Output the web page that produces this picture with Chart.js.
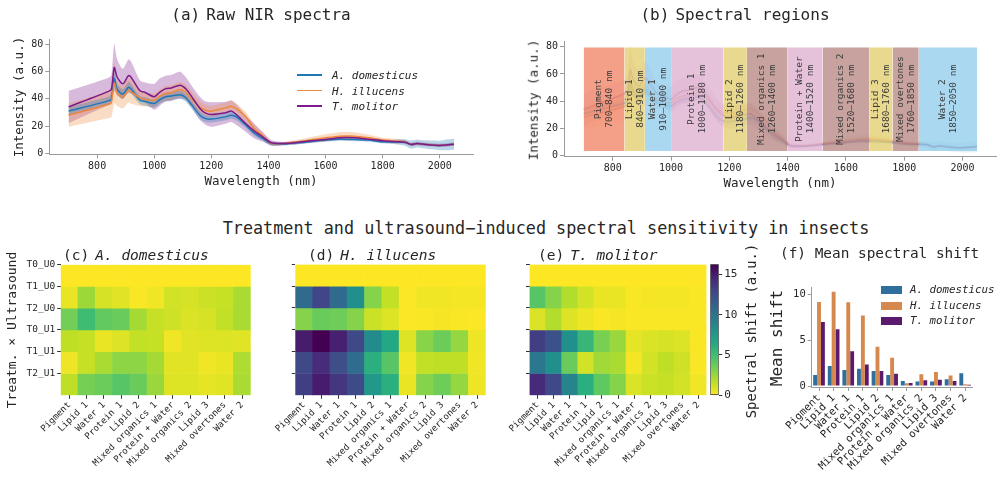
<!DOCTYPE html>
<html>
<head>
<meta charset="utf-8">
<script src="https://cdn.jsdelivr.net/npm/chart.js@4.4.1/dist/chart.umd.min.js"></script>
<style>
  body { margin: 0; width: 1004px; height: 484px; position: relative; overflow: hidden; background: #fff;
         font-family: "DejaVu Sans Mono", monospace; color: #262626; }
  canvas { position: absolute; }
  .t { position: absolute; white-space: nowrap; line-height: 1; }
  .c { transform: translate(-50%, -50%); }
  .l { transform: translateY(-50%); }
  .v { transform: translate(-50%, -50%) rotate(-90deg); }
  i { font-style: italic; }
  .pre { margin-right: 6px; }
</style>
</head>
<body>
<canvas id="cA" width="490" height="200" style="left:0;top:0"></canvas>
<canvas id="cB" width="514" height="200" style="left:490px;top:0"></canvas>
<canvas id="cC" width="270" height="244" style="left:0;top:240px"></canvas>
<canvas id="cD" width="270" height="244" style="left:230px;top:240px"></canvas>
<canvas id="cE" width="240" height="244" style="left:470px;top:240px"></canvas>
<canvas id="cBar" width="60" height="244" style="left:700px;top:240px"></canvas>
<canvas id="cF" width="264" height="244" style="left:740px;top:240px"></canvas>

<div class="t c" style="left:261px;top:15px;font-size:16px"><span class="pre">(a)</span>Raw NIR spectra</div>
<div class="t c" style="left:735px;top:15px;font-size:16px"><span class="pre">(b)</span>Spectral regions</div>
<div class="t c" style="left:261px;top:181px;font-size:12.5px">Wavelength (nm)</div>
<div class="t c" style="left:780px;top:183px;font-size:12.5px">Wavelength (nm)</div>
<div class="t v" style="left:19px;top:97px;font-size:12.5px">Intensity (a.u.)</div>
<div class="t v" style="left:534px;top:100px;font-size:12.5px">Intensity (a.u.)</div>

<div class="t c" style="left:546px;top:228px;font-size:16.8px">Treatment and ultrasound−induced spectral sensitivity in insects</div>
<div class="t l" style="left:63px;top:255px;font-size:14.5px"><span class="pre">(c)</span><i>A. domesticus</i></div>
<div class="t l" style="left:308px;top:255px;font-size:14.5px"><span class="pre">(d)</span><i>H. illucens</i></div>
<div class="t l" style="left:538px;top:255px;font-size:14.5px"><span class="pre">(e)</span><i>T. molitor</i></div>
<div class="t l" style="left:780px;top:253px;font-size:14.4px">(f) Mean spectral shift</div>
<div class="t v" style="left:11px;top:330px;font-size:13px">Treatm. × Ultrasound</div>
<div class="t v" style="left:752px;top:331px;font-size:13.8px">Spectral shift (a.u.)</div>
<div class="t v" style="left:777px;top:338px;font-size:16px">Mean shift</div>
<div id="legends"></div>

<script>
// ---------- data ----------
const wavelengths = [700, 840, 850, 860, 870, 890, 910, 920, 950, 970, 1000, 1020, 1040, 1060, 1090, 1110, 1130, 1160, 1180, 1200,
  1250, 1270, 1290, 1320, 1350, 1380, 1410, 1450, 1500, 1550, 1600, 1650, 1700, 1750, 1800, 1850, 1880, 1900, 1920, 1950, 2000, 2030, 2050];

const meanAdom = [31, 38.5, 40, 55, 47, 43.5, 48.5, 47, 39, 38, 36.6, 39.5, 41.5, 42, 43, 41, 36, 28, 25.6, 25.2,
  26.8, 28, 26.5, 21, 15, 11, 7.2, 7, 7.8, 8.8, 9.8, 10.5, 10.2, 9.8, 8.5, 8.4, 8, 6.6, 7.3, 6.6, 5.9, 6.4, 6.8];
const sdAdom = [3, 3, 3.5, 6, 4, 3.5, 4, 3.5, 3, 3, 3, 3, 3, 3, 3, 3, 3, 2.8, 2.5, 2.5,
  2.5, 2.5, 2.5, 2.2, 2, 1.8, 1.5, 1.2, 1.2, 1.2, 1.2, 1.2, 1.2, 1.2, 1.2, 1.8, 2.5, 3, 3, 3, 3.5, 4, 4];

const meanHill = [28, 36, 37.5, 51.5, 44, 41.5, 46.3, 45, 40.7, 39.5, 39, 42, 43.9, 44.5, 46.8, 45, 40, 34, 31.7, 31,
  33.4, 34.6, 32.5, 27, 18.3, 13, 7.5, 7.3, 8.5, 10, 11.5, 12.7, 12.7, 11.5, 9.8, 9, 8.5, 6.6, 7.3, 6.6, 5.9, 6.4, 6.8];
const sdHill = [8.5, 10, 11, 15, 9, 8.5, 9, 8.5, 6, 5, 5, 5, 5.5, 5.5, 5.5, 5.5, 5.5, 4.5, 4, 4,
  3.8, 3.8, 3.8, 3.5, 3, 2.5, 1.2, 1, 1.5, 2, 2.5, 2.8, 2.8, 2.2, 1.8, 1.8, 1, 0.8, 0.8, 0.8, 0.8, 0.8, 0.8];

const meanTmol = [34.1, 45.5, 47, 63, 56, 51, 57, 55.5, 46, 44.5, 41.5, 45, 47.5, 48, 50, 47.5, 42, 33, 29.5, 28.5,
  29.8, 31, 28, 22, 16.6, 12.2, 7.8, 7.3, 8, 9.3, 10.2, 11.5, 11.5, 10.5, 9.3, 8.6, 8.2, 6.6, 7.3, 6.6, 5.9, 6.4, 6.8];
const sdTmol = [11.8, 10, 10.5, 17, 13, 11, 12, 11.5, 7.5, 7.5, 9.5, 10, 9.5, 9.5, 9.8, 8.5, 8, 8.5, 8.5, 9,
  8, 8, 7.5, 6, 5.4, 3.5, 2, 1.2, 1.2, 1.2, 1.2, 1.3, 1.3, 1.2, 1.2, 1.2, 1.2, 1.2, 1.2, 1.2, 1.2, 1.2, 1.2];

const speciesNames = ['A. domesticus', 'H. illucens', 'T. molitor'];

const regionNames = ['Pigment', 'Lipid 1', 'Water 1', 'Protein 1', 'Lipid 2', 'Mixed organics 1', 'Protein + Water',
  'Mixed organics 2', 'Lipid 3', 'Mixed overtones', 'Water 2'];
const regionStart = [700, 840, 910, 1000, 1180, 1260, 1400, 1520, 1680, 1760, 1850];
const regionEnd = [840, 910, 1000, 1180, 1260, 1400, 1520, 1680, 1760, 1850, 2050];

const rowLabels = ['T0_U0', 'T1_U0', 'T2_U0', 'T0_U1', 'T1_U1', 'T2_U1'];

const shiftAdom = [
  [0, 0, 0, 0, 0, 0, 0, 0, 0, 0, 0],
  [0.5, 2.4, 1.0, 0.7, 0.1, 0.3, 1.1, 1.0, 1.3, 1.4, 2.1],
  [3.5, 5.1, 4.0, 3.8, 2.2, 1.4, 1.2, 0.9, 1.0, 1.5, 2.1],
  [1.6, 1.4, 0.5, 0.8, 1.5, 1.4, 0.3, 0.7, 0.8, 0.8, 0.7],
  [0.4, 1.4, 2.1, 2.8, 2.8, 2.2, 0.7, 0.7, 0.3, 0.5, 2.0],
  [1.6, 3.4, 3.7, 4.3, 3.8, 2.5, 0.8, 0.8, 0.6, 0.7, 2.1]
];
const shiftHill = [
  [0, 0, 0, 0, 0, 0, 0, 0, 0, 0, 0],
  [10.6, 12.9, 10.6, 8.2, 3.0, 1.5, 0.05, 0.3, 0.3, 0.2, 0.2],
  [3.0, 3.8, 3.6, 3.0, 1.3, 0.8, 0.05, 0.1, 0.2, 0.1, 0.05],
  [15.0, 16.3, 14.8, 12.7, 8.5, 6.5, 0.8, 2.9, 3.7, 2.6, 0.4],
  [12.7, 14.2, 12.4, 10.5, 6.0, 4.3, 0.3, 1.5, 1.6, 1.6, 0.3],
  [13.3, 15.0, 13.7, 12.5, 7.6, 6.0, 0.5, 3.0, 3.6, 2.6, 0.4]
];
const shiftTmol = [
  [0, 0, 0, 0, 0, 0, 0, 0, 0, 0, 0],
  [4.3, 3.0, 1.9, 1.1, 0.5, 0.5, 0.1, 0.2, 0.2, 0.2, 0.1],
  [0.9, 1.9, 0.8, 0.4, 0.1, 0.2, 0.1, 0.1, 0.1, 0.1, 0.1],
  [13.3, 12.2, 8.2, 5.5, 3.3, 2.5, 0.6, 0.9, 1.0, 0.8, 0.1],
  [9.8, 8.2, 3.8, 1.1, 2.3, 2.1, 0.2, 1.1, 1.6, 1.2, 0.1],
  [14.3, 12.7, 9.0, 6.0, 4.1, 3.0, 0.9, 1.3, 1.4, 1.1, 0.3]
];

const meanShiftAdom = [1.2, 2.2, 1.75, 1.9, 1.65, 1.2, 0.55, 0.5, 0.5, 0.75, 1.4];
const meanShiftHill = [9.2, 10.3, 9.15, 7.7, 4.3, 3.1, 0.3, 1.3, 1.55, 1.15, 0.2];
const meanShiftTmol = [7.0, 6.2, 3.8, 2.35, 1.65, 1.35, 0.35, 0.65, 0.7, 0.55, 0.15];

const wlTicks = [800, 1000, 1200, 1400, 1600, 1800, 2000];
const intensityTicks = [0, 20, 40, 60, 80];
const meanShiftTicks = [0, 5, 10];
const cbarTicks = [0, 5, 10, 15];

// ---------- styling ----------
const wlMin = 632.5, wlMax = 2117.5, yMin = -0.6, yMax = 83.6;
const vmax = 16.25;
const spine = '#9a9a9a';
const lineCols = [[31, 119, 180], [240, 136, 58], [125, 26, 140]];
const barCols = ['#2e6f9e', '#d6894f', '#5c1a6d'];

Chart.defaults.font.family = "'DejaVu Sans Mono', monospace";
Chart.defaults.color = '#262626';
Chart.defaults.animation = false;
Chart.defaults.events = [];
Chart.defaults.plugins.legend.display = false;
Chart.defaults.plugins.tooltip.enabled = false;

const rgba = (c, a) => `rgba(${c[0]},${c[1]},${c[2]},${a})`;
const plain = v => String(v);

const viridis = ['#440154', '#482475', '#414487', '#355f8d', '#2a788e', '#21918c', '#22a884', '#44bf70', '#7ad151', '#bddf26', '#fde725'];
function hexRgb(h) { return [1, 3, 5].map(k => parseInt(h.substr(k, 2), 16)); }
function viridisR(f) {
  f = Math.min(1, Math.max(0, f));
  const t = (1 - f) * 10, i = Math.min(9, Math.floor(t)), u = t - i;
  const a = hexRgb(viridis[i]), b = hexRgb(viridis[i + 1]);
  return `rgb(${a.map((v, k) => Math.round(v + (b[k] - v) * u)).join(',')})`;
}

// spectra: band (mean ± sd) then mean line, T. molitor on top
const means = [meanAdom, meanHill, meanTmol];
const sds = [sdAdom, sdHill, sdTmol];
function spectraSets(lineAlpha, bandAlpha) {
  const sets = [];
  means.forEach((m, s) => {
    sets.push({ data: wavelengths.map((w, i) => ({ x: w, y: m[i] + sds[s][i] })), fill: '+1',
      backgroundColor: rgba(lineCols[s], bandAlpha), borderWidth: 0, pointRadius: 0, tension: 0.25, order: 5 });
    sets.push({ data: wavelengths.map((w, i) => ({ x: w, y: m[i] - sds[s][i] })), fill: false,
      borderWidth: 0, pointRadius: 0, tension: 0.25, order: 5 });
  });
  means.forEach((m, s) => {
    sets.push({ data: wavelengths.map((w, i) => ({ x: w, y: m[i] })), fill: false, borderColor: rgba(lineCols[s], lineAlpha),
      borderWidth: 1.5, pointRadius: 0, tension: 0.25, order: 4 - s });
  });
  return sets;
}

function spectraScales(yw, xh) {
  return {
    x: { type: 'linear', min: wlMin, max: wlMax,
      afterBuildTicks: s => { s.ticks = wlTicks.map(v => ({ value: v })); },
      afterFit: s => { s.height = xh; },
      border: { color: spine }, grid: { drawOnChartArea: false, color: spine, tickLength: 4 },
      ticks: { font: { size: 10 }, padding: 2, maxRotation: 0, callback: plain } },
    y: { type: 'linear', min: yMin, max: yMax,
      afterBuildTicks: s => { s.ticks = intensityTicks.map(v => ({ value: v })); },
      afterFit: s => { s.width = yw; },
      border: { color: spine }, grid: { drawOnChartArea: false, color: spine, tickLength: 4 },
      ticks: { font: { size: 10 }, padding: 2, callback: plain } }
  };
}

// (a) raw spectra
new Chart(document.getElementById('cA'), {
  type: 'line',
  data: { datasets: spectraSets(1, 0.3) },
  options: { responsive: false, devicePixelRatio: 1,
    layout: { padding: { left: 0, top: 39.3, right: 16.7, bottom: 0 } },
    scales: spectraScales(49.3, 45.7) }
});

// (b) spectral regions over faint spectra
const spanLo = yMin + 0.05 * (yMax - yMin), spanHi = yMin + 0.95 * (yMax - yMin);
function spanColor(n) {
  if (n.startsWith('Pigment')) return 'rgba(240,128,96,0.75)';
  if (n.startsWith('Lipid')) return 'rgba(226,204,104,0.75)';
  if (n.startsWith('Water')) return 'rgba(140,203,235,0.75)';
  if (n.startsWith('Protein')) return 'rgba(222,174,206,0.75)';
  return 'rgba(180,131,126,0.75)';
}
const spanSets = regionNames.map((n, i) => ({
  data: [{ x: regionStart[i], y: spanHi }, { x: regionEnd[i], y: spanHi }],
  fill: { value: spanLo }, backgroundColor: spanColor(n), borderWidth: 0, pointRadius: 0, order: 0
}));
const regionText = {
  id: 'regionText',
  afterDatasetsDraw(chart) {
    const { ctx, scales: { x, y } } = chart;
    ctx.save();
    ctx.font = "9.5px 'DejaVu Sans Mono'";
    ctx.fillStyle = '#3a3a3a';
    ctx.textAlign = 'center';
    ctx.textBaseline = 'middle';
    regionNames.forEach((n, i) => {
      ctx.save();
      ctx.translate(x.getPixelForValue((regionStart[i] + regionEnd[i]) / 2), y.getPixelForValue((spanLo + spanHi) / 2));
      ctx.rotate(-Math.PI / 2);
      ctx.fillText(n, 0, -5.5);
      ctx.fillText(regionStart[i] + '–' + regionEnd[i] + ' nm', 0, 5.5);
      ctx.restore();
    });
    ctx.restore();
  }
};
new Chart(document.getElementById('cB'), {
  type: 'line',
  data: { datasets: spectraSets(0.35, 0.1).concat(spanSets) },
  options: { responsive: false, devicePixelRatio: 1,
    layout: { padding: { left: 0, top: 41.7, right: 7.3, bottom: 0 } },
    scales: spectraScales(74, 43.3) },
  plugins: [regionText]
});

// (c)-(e) heatmaps as stacked floating bars, one dataset per treatment row
function heatmap(id, values, area, w, h, rowText) {
  return new Chart(document.getElementById(id), {
    type: 'bar',
    data: { labels: regionNames,
      datasets: rowLabels.map((r, i) => ({ label: r, data: regionNames.map(() => [i, i + 1]),
        backgroundColor: values[i].map(v => viridisR(v / vmax)), borderWidth: 0,
        grouped: false, barPercentage: 1, categoryPercentage: 1 })) },
    options: { responsive: false, devicePixelRatio: 1,
      layout: { padding: { left: 0, top: area[1], right: w - area[2], bottom: 0 } },
      scales: {
        x: { type: 'category', offset: true, afterFit: s => { s.height = h - area[3]; },
          grid: { offset: false, drawOnChartArea: false, color: '#333', tickLength: 3.5 }, border: { display: false },
          ticks: { autoSkip: false, maxRotation: 45, minRotation: 45, font: { size: 9 }, padding: 1 } },
        y: { type: 'linear', min: 0, max: 6, reverse: true, afterFit: s => { s.width = area[0]; },
          afterBuildTicks: s => { s.ticks = rowLabels.map((r, i) => ({ value: i })); },
          grid: { drawOnChartArea: false, color: '#333', tickLength: 3.5 }, border: { display: false },
          ticks: { font: { size: 9.5 }, padding: 2, callback: (v, i) => rowText ? rowLabels[i] : '' } }
      } }
  });
}
heatmap('cC', shiftAdom, [60.7, 24.5, 250.7, 155.3], 270, 244, true);
heatmap('cD', shiftHill, [65.3, 24.3, 255.7, 155.3], 270, 244, false);
heatmap('cE', shiftTmol, [59.5, 24.3, 236.5, 155.3], 240, 244, false);

// colour bar: one floating bar filled with the reversed viridis ramp
new Chart(document.getElementById('cBar'), {
  type: 'bar',
  data: { labels: [''], datasets: [{ data: [[0, vmax]], barPercentage: 1, categoryPercentage: 1,
    borderWidth: 0.8, borderColor: '#333', borderSkipped: false,
    backgroundColor: c => {
      const a = c.chart.chartArea;
      if (!a) return null;
      const g = c.chart.ctx.createLinearGradient(0, a.bottom, 0, a.top);
      viridis.forEach((col, k) => g.addColorStop(1 - k / 10, col));
      return g;
    } }] },
  options: { responsive: false, devicePixelRatio: 1,
    layout: { padding: { left: 10.3, top: 24.3, right: 0, bottom: 88.7 } },
    scales: {
      x: { display: false },
      y: { position: 'right', min: 0, max: vmax, afterFit: s => { s.width = 41.3; },
        afterBuildTicks: s => { s.ticks = cbarTicks.map(v => ({ value: v })); },
        grid: { drawOnChartArea: false, color: '#333', tickLength: 3.5 }, border: { display: false },
        ticks: { font: { size: 11 }, padding: 2, callback: plain } }
    } }
});

// (f) mean shift per region
new Chart(document.getElementById('cF'), {
  type: 'bar',
  data: { labels: regionNames, datasets: [meanShiftAdom, meanShiftHill, meanShiftTmol].map((d, s) => ({
    label: speciesNames[s], data: d, backgroundColor: barCols[s], borderWidth: 0, categoryPercentage: 0.8, barPercentage: 1 })) },
  options: { responsive: false, devicePixelRatio: 1,
    layout: { padding: { left: 0, top: 47.7, right: 31.5, bottom: 0 } },
    scales: {
      x: { type: 'category', afterFit: s => { s.height = 97; },
        grid: { offset: false, drawOnChartArea: false, color: spine, tickLength: 4 }, border: { color: spine },
        ticks: { autoSkip: false, maxRotation: 45, minRotation: 45, font: { size: 10.5 }, padding: 1 } },
      y: { min: -0.1, max: 10.75, afterFit: s => { s.width = 71.7; },
        afterBuildTicks: s => { s.ticks = meanShiftTicks.map(v => ({ value: v })); },
        grid: { drawOnChartArea: false, color: spine, tickLength: 4 }, border: { color: spine },
        ticks: { font: { size: 10.5 }, padding: 2, callback: plain } }
    } }
});

// legends
const lg = document.getElementById('legends');
speciesNames.forEach((n, s) => {
  const yA = 75 + s * 15.5, yF = 290 + s * 15.5;
  lg.insertAdjacentHTML('beforeend',
    `<div style="position:absolute;left:297px;top:${yA - 0.75}px;width:25px;height:1.5px;background:${rgba(lineCols[s], 1)}"></div>` +
    `<div class="t l" style="left:332px;top:${yA}px;font-size:11px"><i>${n}</i></div>` +
    `<div style="position:absolute;left:881px;top:${yF - 4}px;width:21px;height:8px;background:${barCols[s]}"></div>` +
    `<div class="t l" style="left:910px;top:${yF}px;font-size:10.8px"><i>${n}</i></div>`);
});
</script>
</body>
</html>
